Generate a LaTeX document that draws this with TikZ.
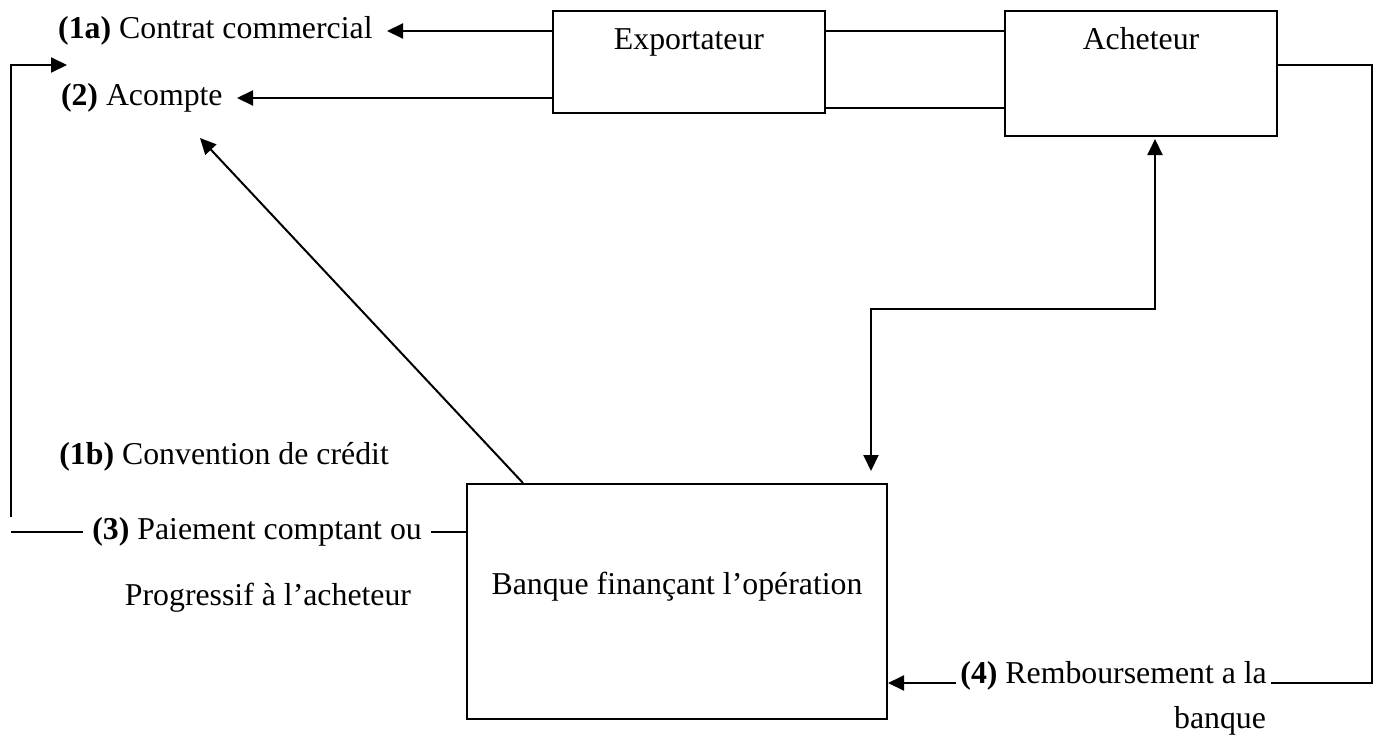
\documentclass[tikz,border=0pt]{standalone}
\usepackage{fontspec}
\setmainfont{Liberation Serif}
\usetikzlibrary{arrows.meta,positioning}

\tikzset{
  boite/.style={draw, line width=1pt, inner sep=0pt},
  texte/.style={inner sep=0pt, text height=11pt, text depth=3.5pt},
  trait/.style={line width=1pt},
}

\begin{document}
\begin{tikzpicture}[x=0.5pt, y=-0.5pt, font=\fontsize{15.9pt}{19pt}\selectfont,
  >={Triangle[length=8pt,width=7.5pt]}]
\useasboundingbox (0,0) rectangle (1380,739);

% les acteurs
\node[boite, minimum width=136pt, minimum height=51pt] (expo) at (689,62) {};
\node[texte] (expotxt) at (689,42) {Exportateur};
\node[boite, minimum width=136pt, minimum height=62.5pt] (achet) at (1141,73.5) {};
\node[texte] (achettxt) at (1141,42) {Acheteur};
\node[boite, minimum width=210pt, minimum height=117.5pt] (banque) at (677,601.5) {};
\node[texte] (banquetxt) at (677,587) {Banque finançant l’opération};

% etiquettes
\node[texte, anchor=east, inner xsep=7pt] (contrat) at (387,31) {\textbf{(1a)} Contrat commercial};
\node[texte, anchor=east, inner xsep=7pt] (acompte) at (237,98) {\textbf{(2)} Acompte};
\node[texte, anchor=west] (convention) at (59,457) {\textbf{(1b)} Convention de crédit};
\node[texte, anchor=west, inner xsep=4.5pt] (paiement) at (83,532) {\textbf{(3)} Paiement comptant ou};
\node[texte] (progressif) at (268,598) {Progressif à l’acheteur};
\node[texte, anchor=base west, inner xsep=2pt] (rembours) at (956,683) {\textbf{(4)} Remboursement a la};
\node[texte] (banque2) at (1220,721) {banque};

% points libres
\coordinate (depart) at (11,517);
\coordinate (retour) at (67,65);
\coordinate (cible) at (200,138);
\coordinate (bord) at (11,532);
\coordinate (coin) at (1372,683);

% liaisons
\draw[trait] (expo.east |- 0,31) -- (achet.west |- 0,31);
\draw[trait] (expo.east |- 0,108) -- (achet.west |- 0,108);
\draw[trait, ->] (expo.west |- contrat) -- (contrat.east);
\draw[trait, ->] (expo.west |- acompte) -- (acompte.east);
\draw[trait, ->] (depart) |- (retour);
\draw[trait, ->] ([xshift=-77pt]banque.north) -- (cible);
\draw[trait] (bord) -- (paiement.west);
\draw[trait] (paiement.east) -- (banque.west |- paiement);
\draw[trait, <->] ([yshift=-1pt, xshift=7pt]achet.south) -- ++(0,170) -| ([xshift=97pt, yshift=6pt]banque.north);
\draw[trait] (achet.east |- 0,65) -| (coin) -- (rembours.base east);
\draw[trait, ->] (rembours.base west) -- (banque.east |- rembours.base);

\end{tikzpicture}
\end{document}
